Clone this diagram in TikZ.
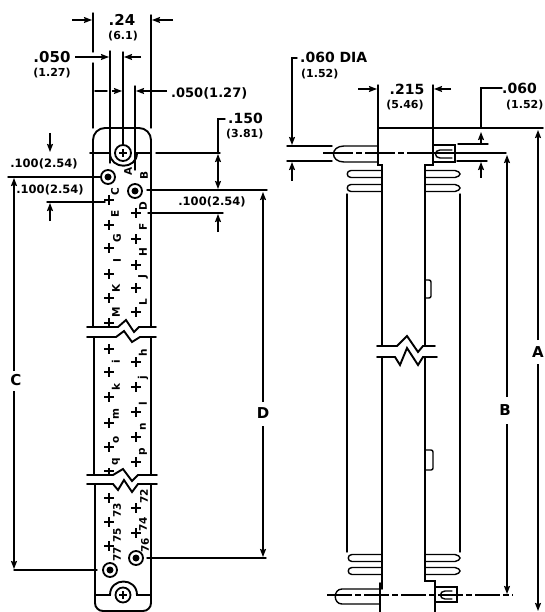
\documentclass[tikz,border=0pt]{standalone}
\usepackage{fontspec}
\setmainfont{DejaVu Sans}[BoldFont={DejaVu Sans Bold}]
\usetikzlibrary{arrows.meta}
\tikzset{
  ln/.style={line width=1.4pt,line cap=round},
  hv/.style={line width=1.9pt,line cap=round},
  dim/.style={line width=1.3pt,-{Stealth[length=8pt,width=6pt,inset=1pt]}},
  dimb/.style={line width=1.3pt,{Stealth[length=8pt,width=6pt,inset=1pt]}-{Stealth[length=8pt,width=6pt,inset=1pt]}},
  txt/.style={font=\bfseries\fontsize{#1}{#1}\selectfont,inner sep=0pt},
  txt/.default=12,
  lab/.style={font=\bfseries\fontsize{10.5}{10.5}\selectfont,inner sep=0pt,rotate=90},
  ring/.style={line width=1.8pt,fill=white},
  crs/.style={line width=1.6pt},
}
\newcommand{\crossmark}[2]{\draw[crs] (#1-5,#2)--(#1+5,#2) (#1,#2-5)--(#1,#2+5);}
\newcommand{\pinoval}[3]{%
  \draw[ln] (#2,#3-3.5)--(#1+4,#3-3.5)..controls (#1-1,#3-3.5) and (#1-1,#3+3.5)..(#1+4,#3+3.5)--(#2,#3+3.5);}
\newcommand{\pinovalR}[3]{%
  \draw[ln] (#1,#3-3.5)--(#2-5,#3-3.5)..controls (#2-2,#3-3.5) and (#2,#3-1)..(#2,#3)..controls (#2,#3+1) and (#2-2,#3+3.5)..(#2-5,#3+3.5)--(#1,#3+3.5);}
\begin{document}
\begin{tikzpicture}[x=1pt,y=-1pt]
\useasboundingbox (0,0) rectangle (545,612);
\fill[white] (0,0) rectangle (545,612);

% ---------- left view: strip outline
\draw[hv,rounded corners=12pt] (93,327)--(93,128)--(151,128)--(151,327);
\draw[hv] (94,337)--(94,475) (151,337)--(151,475);
\draw[hv,rounded corners=8pt] (95,484)--(95,611)--(151,611)--(151,484);
% upper break
\draw[hv] (87,327)--(118,327)--(126,320)--(134,332)--(139,327)--(156,327);
\draw[hv] (87,337)--(116,337)--(124,331)--(132,342)--(140,337)--(156,337);
% lower break
\draw[hv] (87,475)--(113,475)--(123,469)--(132,481)--(138,475)--(157,475);
\draw[hv] (87,484)--(113,484)--(118,490)--(124,480)--(132,492)--(138,484)--(157,484);
% screw recesses
\draw[hv] (90,153)--(110,153)..controls (110,170) and (137,170)..(137,153)--(150,153);
\draw[hv] (96,595)--(110,595)..controls (110,577) and (137,577)..(137,595)--(151,595);
% top dimensions, extension lines
\draw[ln] (93,13)--(93,52) (93,63)--(93,128);
\draw[ln] (151,15)--(151,128);
\draw[ln] (110,51)--(110,163);
\draw[ln] (123,52)--(123,150);
\draw[ln] (135,86)--(135,170);
\draw[dim] (72,20)--(92,20);
\draw[dim] (173,20)--(152,20);
\draw[dim] (75,57)--(109,57);
\draw[dim] (141,57)--(124,57);
\draw[ln] (95,91)--(107,91);
\draw[dim] (112,91)--(122,91);
\draw[dim] (167,91)--(136,91);
% circles
\draw[ring] (123,153) circle (8);
\draw[crs,line width=1.2pt] (119,153)--(127,153) (123,149)--(123,157);
\draw[ring] (108,177) circle (7); \fill (108,177) circle (3.5);
\draw[ring] (135,191) circle (7); \fill (135,191) circle (3.5);
\draw[ring] (110,570) circle (7); \fill (110,570) circle (3.5);
\draw[ring] (136,558) circle (7); \fill (136,558) circle (3.5);
\draw[ring] (123,595) circle (7.5);
\draw[crs,line width=1.2pt] (119,595)--(127,595) (123,591)--(123,599);
% crosses
\foreach \p in {200,225,248,274,298,323,349,372,397,423,447,498,522,546}{\crossmark{109}{\p}}
\foreach \p in {213,239,265,288,312,362,387,412,437,462,508,533}{\crossmark{136}{\p}}
\draw[crs] (104,471)--(114,471) (109,468)--(109,475);
% strip labels
\foreach \t/\x/\y/\n in {A/128/171/la,C/115/192/lc,E/115/214/le,G/117/238/lg,I/117/261/li,K/116/288/lk,M/116/312/lm,i/116/362/lii,k/116/387/lkk,m/116/414/lmm,o/116/440/loo,q/116/462/lqq,73/117/510/l73,75/117/535/l75,77/117/554/l77,
  B/144/175/lb,D/143/206/ld,F/143/227/lf,H/143/252/lh,J/143/277/lj,L/143/302/ll,h/143/353/lhh,j/143/378/ljj,l/143/404/lll,n/143/427/lnn,p/143/452/lpp,72/144/496/l72,74/143/524/l74,76/145/545/l76}
  {\node[lab] (\n) at (\x,\y) {\t};}
% left side dims
\draw[ln] (8,177)--(100,177);
\draw[dim] (50,133)--(50,152);
\node[txt=11.5] (t100a) at (44,164) {.100(2.54)};
\node[txt=11.5] (t100b) at (50,190) {.100(2.54)};
\draw[ln] (47,202)--(105,202);
\draw[dim] (50,221)--(50,203);
% C
\node[txt=15] (tc) at (16,380) {C};
\draw[dim] (14,371)--(14,178);
\draw[dim] (14,391)--(14,569);
\draw[ln] (14,570)--(97,570);
% D
\node[txt=15] (td) at (263,413) {D};
\draw[dim] (263,402)--(263,192);
\draw[dim] (263,426)--(263,557);
\draw[ln] (147,558)--(266,558);
\draw[ln] (147,190)--(267,190);
\draw[ln] (156,153)--(220,153);
\draw[ln] (225,119)--(218,119)--(218,153);
\draw[dimb] (218,154)--(218,189);
\node[txt=14,anchor=west] (t150) at (228,118) {.150};
\node[txt=11,anchor=west] (t381) at (226,134) {(3.81)};
\draw[ln] (148,213)--(223,213);
\draw[dim] (218,232)--(218,214);
\node[txt=11.5] (t100c) at (212,202) {.100(2.54)};
% top texts
\node[txt=15] (t24) at (122,20) {.24};
\node[txt=11] (t61) at (123,36) {(6.1)};
\node[txt=15] (t050a) at (52,57) {.050};
\node[txt=11] (t127a) at (52,73) {(1.27)};
\node[txt=13,anchor=west] (t050b) at (171,93) {.050(1.27)};

% ---------- right view
\draw[hv] (425,346)--(425,165)--(433,165)--(433,128)--(378,128)--(378,165)--(382,165)--(382,346);
\draw[hv] (382,357)--(382,589) (425,357)--(425,581)--(435,581)--(435,612);
\draw[hv] (380,583)--(380,612);
\draw[hv] (433,128)--(543,128);
% break
\draw[hv] (377,346)--(397,346)--(407,336)--(418,352)--(423,346)--(435,346);
\draw[hv] (377,357)--(395,357)--(400,365)--(407,348)--(418,365)--(423,357)--(437,357);
% bumps
\draw[ln,rounded corners=2pt] (425,280)--(431,280)--(431,298)--(425,298);
\draw[ln,rounded corners=2pt] (426,450)--(433,450)--(433,470)--(426,470);
% outer frame lines
\draw[ln] (347,194)--(347,552);
\draw[ln] (460,194)--(460,552);
% contacts
\pinoval{347}{382}{174} \pinoval{347}{382}{188}
\pinovalR{425}{460}{174} \pinovalR{425}{460}{188}
\pinoval{348}{382}{558} \pinoval{348}{382}{571}
\pinovalR{425}{460}{558} \pinovalR{425}{460}{571}
% upper pin
\draw[ln] (378,146)--(344,146)..controls (330,146) and (330,162)..(344,162)--(378,162);
\draw[ln] (433,145)--(455,145)--(455,162)--(433,162);
\draw[ln] (452,150)--(440,150)..controls (434,150) and (434,158)..(440,158)--(452,158);
% lower pin
\draw[ln] (380,589)--(342,589)..controls (333,589) and (333,604)..(342,604)--(380,604);
\draw[ln] (435,587)--(457,587)--(457,602)--(435,602);
\draw[ln] (452,591)--(445,591)..controls (439,591) and (439,599)..(445,599)--(452,599);
% center lines
\draw[line width=1.4pt,dash pattern=on 30pt off 3pt on 6pt off 3pt] (323,153)--(433,153);
\draw[ln] (433,153)--(506,153);
\draw[line width=1.4pt,dash pattern=on 25pt off 3pt on 6pt off 3pt] (327,595)--(513,595);
% .060 DIA
\draw[ln] (287,146)--(332,146) (287,161)--(332,161);
\draw[ln] (297,58)--(292,58)--(292,130);
\draw[dim] (292,125)--(292,145);
\draw[dim] (292,181)--(292,162);
\node[txt=14,anchor=west] (tdia) at (300,57) {.060 DIA};
\node[txt=11,anchor=west] (t152a) at (301,74) {(1.52)};
% .215
\draw[ln] (378,85)--(378,128) (433,85)--(433,128);
\draw[dim] (358,89)--(377,89);
\draw[dim] (451,89)--(434,89);
\node[txt=14] (t215) at (407,89) {.215};
\node[txt=11] (t546) at (405,105) {(5.46)};
% .060 right
\draw[ln] (502,88)--(481,88)--(481,127);
\node[txt=14,anchor=west] (t060) at (502,88) {.060};
\node[txt=11,anchor=west] (t152b) at (506,105) {(1.52)};
\draw[ln] (458,144)--(488,144) (457,161)--(487,161);
\draw[dim] (481,143)--(481,132);
\draw[dim] (481,178)--(481,162);
% B
\node[txt=15] (tb) at (505,410) {B};
\draw[dim] (507,397)--(507,155);
\draw[dim] (507,424)--(507,594);
% A
\node[txt=15] (ta) at (538,352) {A};
\draw[dim] (538,340)--(538,130);
\draw[dim] (538,364)--(538,611);
\end{tikzpicture}
\end{document}
